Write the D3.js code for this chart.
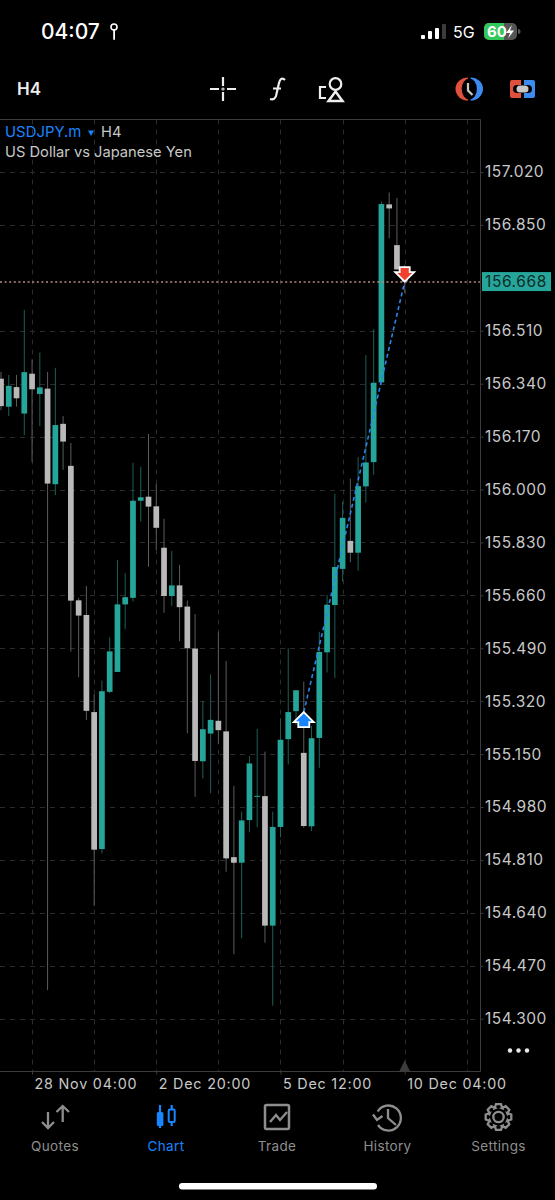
<!DOCTYPE html>
<html><head><meta charset="utf-8">
<script src="https://cdn.jsdelivr.net/npm/d3@7/dist/d3.min.js"></script>
<style>html,body{margin:0;padding:0;background:#000}svg{display:block}text{font-family:Inter,"Liberation Sans",sans-serif}</style>
</head><body><svg id="c" width="555" height="1200"></svg>
<script>
const opens=[156.356,156.266,156.329,156.244,156.372,156.307,156.324,156.017,156.211,156.076,155.644,155.597,155.285,154.845,155.350,155.414,155.631,155.652,155.964,155.977,155.946,155.813,155.658,155.692,155.624,155.489,155.127,155.216,155.257,155.223,154.819,154.801,154.938,155.013,155.015,154.599,154.916,155.198,155.288,155.154,154.918,155.202,155.477,155.629,155.745,155.835,155.797,156.010,156.088,156.344,156.916,156.785,156.705];
const highs=[156.378,156.368,156.368,156.577,156.418,156.440,156.378,156.391,156.236,156.150,155.652,155.690,155.342,155.386,155.525,155.774,155.731,156.086,156.073,156.178,156.018,155.906,155.803,155.758,155.643,155.600,155.321,155.406,155.541,155.449,155.048,154.965,155.144,155.231,155.158,154.965,155.265,155.490,155.356,155.383,155.240,155.543,155.661,155.986,155.961,156.035,156.104,156.432,156.515,156.925,156.954,156.937,156.721];
const lows=[156.255,156.236,156.266,156.175,156.089,156.204,154.392,155.982,156.063,155.479,155.397,155.260,154.662,154.831,155.346,155.414,155.551,155.640,155.897,155.752,155.806,155.604,155.626,155.513,155.217,155.013,155.072,155.024,155.183,154.772,154.507,154.558,154.899,154.915,154.544,154.342,154.883,155.117,155.244,154.913,154.903,155.106,155.412,155.394,155.704,155.766,155.739,155.958,156.047,156.342,156.807,156.705,156.631];
const closes=[156.268,156.333,156.293,156.377,156.322,156.328,156.019,156.207,156.154,155.643,155.595,155.289,154.843,155.352,155.480,155.631,155.654,155.964,155.975,155.945,155.877,155.658,155.692,155.622,155.490,155.128,155.230,155.260,155.227,154.815,154.801,154.937,155.120,155.016,154.599,154.916,155.196,155.285,155.355,154.919,155.201,155.478,155.630,155.751,155.909,155.797,156.011,156.087,156.343,156.917,156.903,156.707,156.668];
const priceTicks=[157.02,156.85,156.51,156.34,156.17,156.0,155.83,155.66,155.49,155.32,155.15,154.98,154.81,154.64,154.47,154.30];
const gridBars=[4,12,20,28,36,44,52,60];
const timeBars=[4,20,36,52];
const timeLabels=["28 Nov 04:00","2 Dec 20:00","5 Dec 12:00","10 Dec 04:00"];
const lastPrice=156.668;
const tradeIn={bar:39,price:155.285};
const tradeOut={bar:52,price:156.668};
const navLabels=["Quotes","Chart","Trade","History","Settings"];

const TEAL="#26a69a",GRAY="#b9b9b9",BLUE="#1a84ff",RED="#f0402e",TXT="#c8c8c8";
const svg=d3.select("#c");
const y=d3.scaleLinear().domain([157.02,154.30]).range([172,1018.7]);
const x=d3.scaleLinear().domain([0,52]).range([1,404.7]);
const L=0,R=480.5,T=119.5,B=1071.5;

svg.append("defs").append("clipPath").attr("id","plot").append("rect").attr("x",L).attr("y",T).attr("width",R-L).attr("height",B-T);
// grid
const grid=svg.append("g").attr("stroke","#2b2b2b").attr("stroke-width",1).attr("stroke-dasharray","5 5").attr("fill","none");
grid.selectAll("line.h").data(priceTicks).join("line").attr("class","h").attr("x1",L).attr("x2",R)
  .attr("y1",d=>Math.round(y(d))+.5).attr("y2",d=>Math.round(y(d))+.5);
grid.selectAll("line.v").data(gridBars).join("line").attr("class","v").attr("y1",T).attr("y2",B)
  .attr("x1",d=>Math.round(x(d))+.5).attr("x2",d=>Math.round(x(d))+.5);

// candles
const idx=d3.range(opens.length);
const plot=svg.append("g").attr("clip-path","url(#plot)");
const up=i=>closes[i]>=opens[i];
plot.selectAll("line.w").data(idx).join("line").attr("class","w")
  .attr("x1",i=>x(i)).attr("x2",i=>x(i)).attr("y1",i=>y(highs[i])).attr("y2",i=>y(lows[i]))
  .attr("stroke",i=>up(i)?"#1d5f59":"#5c5c5c").attr("stroke-width",1);
plot.selectAll("rect.b").data(idx).join("rect").attr("class","b")
  .attr("x",i=>x(i)-2.85).attr("width",5.7)
  .attr("y",i=>y(Math.max(opens[i],closes[i])))
  .attr("height",i=>Math.max(1,Math.abs(y(opens[i])-y(closes[i]))))
  .attr("fill",i=>up(i)?TEAL:GRAY);

// last price line
svg.append("line").attr("x1",L).attr("x2",R).attr("y1",y(lastPrice)+.5).attr("y2",y(lastPrice)+.5)
  .attr("stroke","#b98a7c").attr("stroke-width",1.6).attr("stroke-dasharray","2 2.6");

// trade line
svg.append("line").attr("x1",x(tradeIn.bar)).attr("y1",y(tradeIn.price)).attr("x2",x(tradeOut.bar)).attr("y2",y(tradeOut.price))
  .attr("stroke","#2a86e8").attr("stroke-width",1.6).attr("stroke-dasharray","4 3");

// arrows
const ax=x(tradeIn.bar),ay=y(tradeIn.price);
svg.append("path").attr("transform",`translate(${ax},${ay})`)
  .attr("d","M0,0L10,10H5.5V15H-5.5V10H-10Z").attr("fill",BLUE).attr("stroke","#fff").attr("stroke-width",1.8);
const bx=x(tradeOut.bar),by=y(tradeOut.price);
svg.append("path").attr("transform",`translate(${bx},${by})`)
  .attr("d","M0,0L-9.5,-9.5H-5V-14.5H5V-9.5H9.5Z").attr("fill",RED).attr("stroke","#fff").attr("stroke-width",1.8);

// frame
svg.append("path").attr("d",`M${L},${T}H${R}V${B}H${L}`).attr("fill","none").attr("stroke","#3c3c3c");
svg.append("path").attr("d",`M${bx-5.5},${B}L${bx},${B-11}L${bx+5.5},${B}Z`).attr("fill","#3d3d3d");

// axes
const yAxis=d3.axisRight(y).tickValues(priceTicks).tickFormat(d3.format(".3f")).tickSize(3).tickPadding(1.5);
const gy=svg.append("g").attr("transform",`translate(${R},0)`).call(yAxis);
gy.select(".domain").remove();
gy.selectAll("line").attr("stroke","#3c3c3c");
gy.selectAll("text").attr("fill",TXT).attr("font-size",15.5).attr("letter-spacing",.5).style("font-family","Inter,'Liberation Sans',sans-serif");

const xAxis=d3.axisBottom(x).tickValues(timeBars).tickFormat((d,i)=>timeLabels[i]).tickSize(3).tickPadding(4);
const gx=svg.append("g").attr("transform",`translate(0,${B})`).call(xAxis);
gx.select(".domain").remove();
gx.selectAll("line").attr("stroke","#3c3c3c");
gx.selectAll("text").attr("fill",TXT).attr("text-anchor","start").attr("x",2).attr("font-size",14.3).attr("letter-spacing",.8).style("font-family","Inter,'Liberation Sans',sans-serif");

// last price tag
svg.append("rect").attr("x",482).attr("y",y(lastPrice)-9.5).attr("width",69).attr("height",19).attr("fill",TEAL);
svg.append("text").attr("x",485).attr("y",y(lastPrice)+5.5).attr("fill","#0d2b28").attr("font-size",15.5).attr("letter-spacing",.6).text(d3.format(".3f")(lastPrice));

// title
svg.append("text").attr("x",5).attr("y",137).attr("font-size",14.9).attr("fill",BLUE).text("USDJPY.m");
svg.append("path").attr("d","M88,130.5h6l-3,5.5z").attr("fill",BLUE);
svg.append("text").attr("x",101).attr("y",137).attr("font-size",14.7).attr("fill",TXT).text("H4");
svg.append("text").attr("x",5).attr("y",157).attr("font-size",14.7).attr("fill",TXT).text("US Dollar vs Japanese Yen");

// status bar
svg.append("text").attr("x",41).attr("y",39).attr("font-size",21).attr("font-weight",500).attr("fill","#fff").text("04:07");
const st=svg.append("g").attr("fill","#fff");
st.append("circle").attr("cx",114).attr("cy",27).attr("r",3).attr("fill","none").attr("stroke","#fff").attr("stroke-width",1.6);
st.append("rect").attr("x",113.2).attr("y",29).attr("width",1.8).attr("height",11).attr("rx",.9);
[[421,35,4,4],[428,31,4,8],[435,28,4,11]].forEach(r=>st.append("rect").attr("x",r[0]).attr("y",r[1]).attr("width",r[2]).attr("height",r[3]).attr("rx",1));
svg.append("rect").attr("x",442).attr("y",24).attr("width",4).attr("height",15).attr("rx",1).attr("fill","#3c3c3c");
svg.append("text").attr("x",453).attr("y",38).attr("font-size",16).attr("fill","#fff").text("5G");
svg.append("rect").attr("x",484).attr("y",23).attr("width",33).attr("height",17).attr("rx",5).attr("fill","#555");
svg.append("path").attr("d","M489,23H504V40H489a5,5 0 0 1 -5,-5V28a5,5 0 0 1 5,-5Z").attr("fill","#34c759");
svg.append("text").attr("x",487).attr("y",37).attr("font-size",15).attr("font-weight",700).attr("fill","#fff").text("60");
svg.append("path").attr("d","M512,25L506,33H510L508,38.5L514,30.5H510Z").attr("fill","#fff");
svg.append("path").attr("d","M518,29v5a2.5,2.5 0 0 0 0,-5z").attr("fill","#555");

// toolbar
svg.append("text").attr("x",17).attr("y",95).attr("font-size",17).attr("font-weight",600).attr("fill","#eee").text("H4");
const tb=svg.append("g").attr("fill","none").attr("stroke","#eee").attr("stroke-width",2.2);
tb.append("path").attr("d","M210,89h9M227,89h9M223,77v9M223,92v9");
tb.append("circle").attr("cx",223).attr("cy",89).attr("r",.5);
tb.append("path").attr("d","M285,80c-3,-3 -5,-1 -6,3l-3,13c-1,3 -3,4 -6,3M273,88.5h8");
tb.append("circle").attr("cx",335.5).attr("cy",84).attr("r",5.8);
tb.append("path").attr("d","M335.5,91.5L342.5,101H328.5Z").attr("stroke-width",2.5);
tb.append("path").attr("d","M326,87h-6v11h6");
// clock
svg.append("path").attr("d","M468,77.5a12.5,11.5 0 0 0 0,23Z").attr("fill","#e0503f");
svg.append("path").attr("d","M470.5,77.5a12.5,11.5 0 0 1 0,23Z").attr("fill","#3d8bf0");
svg.append("ellipse").attr("cx",469.3).attr("cy",89).attr("rx",7.6).attr("ry",10.5).attr("fill","#000");
svg.append("path").attr("d","M468,83V90.5L472.5,95").attr("fill","none").attr("stroke","#c8c8c8").attr("stroke-width",2.2);
// link
svg.append("path").attr("d","M512,80H521V85H517a4,4 0 0 0 0,8H521V98H512a2,2 0 0 1 -2,-2V82a2,2 0 0 1 2,-2Z").attr("fill","#e0503f");
svg.append("path").attr("d","M524,80H533a2,2 0 0 1 2,2V96a2,2 0 0 1 -2,2H524V93H528a4,4 0 0 0 0,-8H524Z").attr("fill","#3d8bf0");
svg.append("rect").attr("x",516.5).attr("y",85.5).attr("width",12).attr("height",7).attr("rx",3.5).attr("fill","#c8c8c8");

// three dots
[510,518.5,527].forEach(c=>svg.append("circle").attr("cx",c).attr("cy",1050.5).attr("r",2.2).attr("fill","#e8e8e8"));

// nav
const navX=[55,166,277,387.5,498.5];
svg.selectAll("text.nav").data(navLabels).join("text").attr("class","nav").attr("x",(d,i)=>navX[i]).attr("y",1151)
  .attr("text-anchor","middle").attr("font-size",13.5).attr("letter-spacing",.35).attr("fill",(d,i)=>i==1?BLUE:"#8e8e8e").text(d=>d);
const G="#8e8e8e";
const n=svg.append("g").attr("fill","none").attr("stroke",G).attr("stroke-width",2.3);
n.append("path").attr("d","M48,1112V1128M42,1122L48,1128L54,1122M62.7,1122V1106M56.5,1112L62.7,1106L69,1112");
// chart icon
svg.append("path").attr("d","M160,1105V1128").attr("stroke",BLUE).attr("stroke-width",2.2);
svg.append("rect").attr("x",156.8).attr("y",1112).attr("width",6.6).attr("height",14).attr("rx",1.5).attr("fill",BLUE);
svg.append("path").attr("d","M171.7,1105V1126").attr("stroke",BLUE).attr("stroke-width",2.2);
svg.append("rect").attr("x",168.7).attr("y",1109.5).attr("width",6).attr("height",12.5).attr("rx",1.2).attr("fill","#000").attr("stroke",BLUE).attr("stroke-width",2);
// trade
n.append("rect").attr("x",265).attr("y",1105).attr("width",24).attr("height",24).attr("rx",1.5).attr("stroke-width",2.5);
n.append("path").attr("d","M270,1122L276,1115L280,1120L287,1112");
// history
n.append("path").attr("d","M377.7,1111.5A12.5,12.5 0 1 1 378,1125");
n.append("path").attr("d","M373,1114.5L377,1120L382.5,1116");
n.append("path").attr("d","M388,1109V1118L396,1125");
// settings
const gear=n.append("g").attr("transform","translate(498.5,1117)");
gear.append("circle").attr("r",5.2);
gear.append("path").attr("d",d3.range(8).map(i=>{const a=i*Math.PI/4-Math.PI/2,s=.28;const P=(r,b)=>[(r*Math.cos(b)).toFixed(1),(r*Math.sin(b)).toFixed(1)].join(",");return (i?"L":"M")+P(9.5,a-s*1.5)+"L"+P(13,a-s*.7)+"L"+P(13,a+s*.7)+"L"+P(9.5,a+s*1.5);}).join("")+"Z");

// home bar
svg.append("rect").attr("x",179).attr("y",1183).attr("width",198).attr("height",6.5).attr("rx",3.2).attr("fill","#fff");
</script></body></html>
